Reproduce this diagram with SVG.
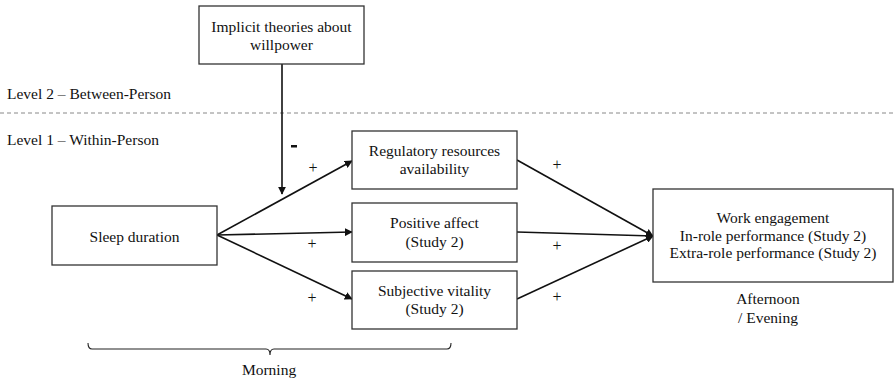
<svg xmlns="http://www.w3.org/2000/svg" width="895" height="388" viewBox="0 0 895 388">
<style>
text{font-size:15.5px;fill:#111}
.c{text-anchor:middle}
.p{font-size:16px}
.box{fill:#fff;stroke:#333;stroke-width:1.3}
.arr{stroke:#111;stroke-width:1.6;fill:none;marker-end:url(#ah)}
</style>
<defs>
<marker id="ah" viewBox="0 0 10 10" refX="9" refY="5" markerWidth="5" markerHeight="5" orient="auto" markerUnits="strokeWidth">
<path d="M0,0 L10,5 L0,10 z" fill="#111"/>
</marker>
</defs>
<rect width="895" height="388" fill="#fff"/>
<g font-family="'Liberation Serif', 'DejaVu Serif', serif">
<line x1="0" y1="113" x2="895" y2="113" stroke="#888" stroke-width="1" stroke-dasharray="4,3"/>
<text x="7" y="99">Level 2 – Between-Person</text>
<text x="7" y="145">Level 1 – Within-Person</text>
<g id="connectors">
<line class="arr" x1="282" y1="64" x2="282" y2="194"/>
<line class="arr" x1="217" y1="235" x2="352" y2="161"/>
<line class="arr" x1="217" y1="235" x2="352" y2="232"/>
<line class="arr" x1="217" y1="235" x2="352" y2="299"/>
<line class="arr" x1="517" y1="160" x2="653" y2="236"/>
<line class="arr" x1="517" y1="232" x2="653" y2="236"/>
<line class="arr" x1="517" y1="299" x2="653" y2="236"/>
<rect x="291" y="145" width="6" height="2.5" fill="#111"/>
<text class="c p" x="313" y="173">+</text>
<text class="c p" x="312" y="249">+</text>
<text class="c p" x="312" y="303">+</text>
<text class="c p" x="557" y="170">+</text>
<text class="c p" x="557" y="251">+</text>
<text class="c p" x="557" y="302">+</text>
</g>
<g id="implicit">
<rect class="box" x="199" y="6" width="165" height="58"/>
<text class="c" x="281.5" y="32">Implicit theories about</text>
<text class="c" x="281.5" y="50">willpower</text>
</g>
<g id="sleep">
<rect class="box" x="52" y="206" width="165" height="59"/>
<text class="c" x="134.5" y="242">Sleep duration</text>
</g>
<g id="regulatory">
<rect class="box" x="352" y="131" width="165" height="58"/>
<text class="c" x="434.5" y="156">Regulatory resources</text>
<text class="c" x="434.5" y="174">availability</text>
</g>
<g id="positive">
<rect class="box" x="352" y="203" width="165" height="59"/>
<text class="c" x="434.5" y="228">Positive affect</text>
<text class="c" x="434.5" y="247">(Study 2)</text>
</g>
<g id="vitality">
<rect class="box" x="352" y="271" width="165" height="58"/>
<text class="c" x="434.5" y="296">Subjective vitality</text>
<text class="c" x="434.5" y="314">(Study 2)</text>
</g>
<g id="outcome">
<rect class="box" x="653" y="189" width="240" height="93"/>
<text class="c" x="773" y="223">Work engagement</text>
<text class="c" x="773" y="241">In-role performance (Study 2)</text>
<text class="c" x="773" y="258">Extra-role performance (Study 2)</text>
</g>
<text class="c" x="768" y="304">Afternoon</text>
<text class="c" x="768" y="323">/ Evening</text>
<path d="M88,343 Q88,349 92,349 L266,349 Q270,349 270,355 Q270,349 274,349 L447,349 Q451,349 451,343" fill="none" stroke="#222" stroke-width="1.1"/>
<text class="c" x="269" y="375">Morning</text>
</g>
</svg>
